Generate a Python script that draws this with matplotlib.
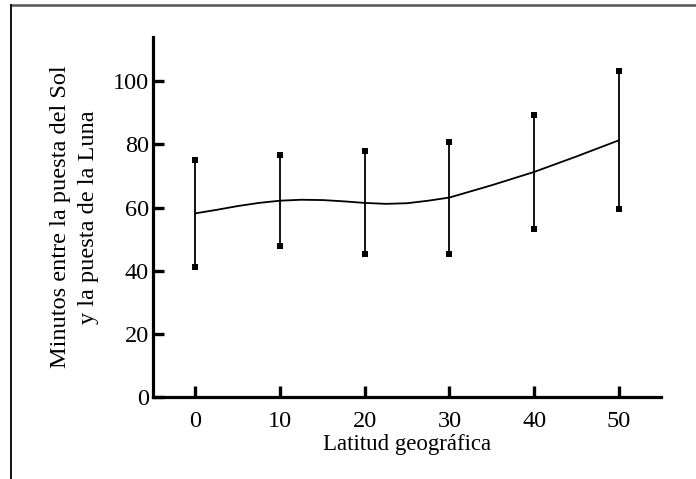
import matplotlib
matplotlib.use("Agg")
import matplotlib.pyplot as plt
from matplotlib.lines import Line2D

# latitude groups with the range (min/max) and the mean curve
lat = [0, 10, 20, 30, 40, 50]
upper = [75.0, 76.5, 78.0, 80.7, 89.2, 103.3]
lower = [41.2, 48.0, 45.2, 45.4, 53.2, 59.5]

# smooth mean curve
curve_x = [0, 2.5, 5, 7.5, 10, 12.5, 15, 17.5, 20, 22.5, 25, 27.5, 30, 35, 40, 45, 50]
curve_y = [58.2, 59.3, 60.5, 61.5, 62.2, 62.5, 62.4, 62.0, 61.5, 61.2, 61.4, 62.2, 63.2,
           67.1, 71.3, 76.2, 81.3]

xticks = [0, 10, 20, 30, 40, 50]
yticks = [0, 20, 40, 60, 80, 100]

plt.rcParams['font.family'] = ['Liberation Serif', 'DejaVu Serif']

fig = plt.figure(figsize=(6.96, 4.79), dpi=100)
ax = fig.add_axes([0.2198, 0.1706, 0.7302, 0.7522])

for x, lo, hi in zip(lat, lower, upper):
    ax.plot([x, x], [lo, hi], color='black', lw=1.3, solid_capstyle='butt')
ax.plot(lat, upper, 's', color='black', ms=4.5, mew=0)
ax.plot(lat, lower, 's', color='black', ms=4.5, mew=0)
ax.plot(curve_x, curve_y, color='black', lw=1.3)

ax.set_xlim(-5, 55)
ax.set_ylim(0, 114)
ax.set_xticks(xticks)
ax.set_yticks(yticks)
ax.tick_params(direction='in', length=8, width=2.4, labelsize=17.5, pad=3)
ax.tick_params(axis='x', pad=10)

for side in ['top', 'right']:
    ax.spines[side].set_visible(False)
for side in ['left', 'bottom']:
    ax.spines[side].set_linewidth(2.3)

ax.set_xlabel('Latitud geográfica', fontsize=16.5, labelpad=1)
ax.set_ylabel('Minutos entre la puesta del Sol\ny la puesta de la Luna', fontsize=17.5,
              labelpad=10, linespacing=1.4)

# outer frame (top and left only)
fx = 11 / 696
fy = 1 - 5 / 479
fig.add_artist(Line2D([fx, 1], [fy, fy], color='#555555', lw=1.8, transform=fig.transFigure))
fig.add_artist(Line2D([fx, fx], [0, fy], color='black', lw=1.3, transform=fig.transFigure))

fig.savefig('out.png', dpi=100)
